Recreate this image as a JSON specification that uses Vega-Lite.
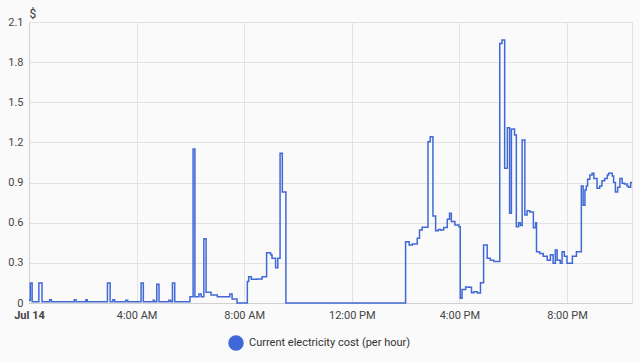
{
  "$schema": "https://vega.github.io/schema/vega-lite/v6.json",
  "width": 603,
  "height": 281,
  "autosize": {"type": "none"},
  "padding": {"left": 29, "top": 22, "right": 8, "bottom": 59},
  "background": "#fafafa",
  "config": {
    "font": "Roboto",
    "view": {"stroke": "#e2e2e2", "strokeWidth": 1},
    "axis": {"gridColor": "#e2e2e2", "domainColor": "#d0d0d0", "ticks": false, "labelFont": "Roboto", "labelFontSize": 11, "labelColor": "#444"}
  },
  "data": {
    "values": [
      {"t": "2023-07-14T00:00", "v": 0.02},
      {"t": "2023-07-14T00:03", "v": 0.15},
      {"t": "2023-07-14T00:07", "v": 0.01},
      {"t": "2023-07-14T00:22", "v": 0.15},
      {"t": "2023-07-14T00:29", "v": 0.01},
      {"t": "2023-07-14T00:46", "v": 0.025},
      {"t": "2023-07-14T00:50", "v": 0.01},
      {"t": "2023-07-14T01:41", "v": 0.025},
      {"t": "2023-07-14T01:45", "v": 0.01},
      {"t": "2023-07-14T02:07", "v": 0.025},
      {"t": "2023-07-14T02:10", "v": 0.01},
      {"t": "2023-07-14T02:55", "v": 0.15},
      {"t": "2023-07-14T03:01", "v": 0.01},
      {"t": "2023-07-14T03:07", "v": 0.025},
      {"t": "2023-07-14T03:11", "v": 0.01},
      {"t": "2023-07-14T03:36", "v": 0.02},
      {"t": "2023-07-14T03:40", "v": 0.01},
      {"t": "2023-07-14T04:10", "v": 0.15},
      {"t": "2023-07-14T04:15", "v": 0.01},
      {"t": "2023-07-14T04:37", "v": 0.02},
      {"t": "2023-07-14T04:40", "v": 0.01},
      {"t": "2023-07-14T04:45", "v": 0.14},
      {"t": "2023-07-14T04:50", "v": 0.01},
      {"t": "2023-07-14T05:12", "v": 0.02},
      {"t": "2023-07-14T05:16", "v": 0.01},
      {"t": "2023-07-14T05:20", "v": 0.15},
      {"t": "2023-07-14T05:25", "v": 0.01},
      {"t": "2023-07-14T05:59", "v": 0.047},
      {"t": "2023-07-14T06:06", "v": 1.15},
      {"t": "2023-07-14T06:10", "v": 0.047},
      {"t": "2023-07-14T06:19", "v": 0.067},
      {"t": "2023-07-14T06:24", "v": 0.047},
      {"t": "2023-07-14T06:30", "v": 0.48},
      {"t": "2023-07-14T06:35", "v": 0.08},
      {"t": "2023-07-14T06:46", "v": 0.06},
      {"t": "2023-07-14T07:00", "v": 0.047},
      {"t": "2023-07-14T07:28", "v": 0.067},
      {"t": "2023-07-14T07:33", "v": 0.03},
      {"t": "2023-07-14T07:44", "v": 0},
      {"t": "2023-07-14T08:07", "v": 0.16},
      {"t": "2023-07-14T08:10", "v": 0.197},
      {"t": "2023-07-14T08:16", "v": 0.177},
      {"t": "2023-07-14T08:29", "v": 0.18},
      {"t": "2023-07-14T08:40", "v": 0.197},
      {"t": "2023-07-14T08:50", "v": 0.376},
      {"t": "2023-07-14T08:59", "v": 0.36},
      {"t": "2023-07-14T09:02", "v": 0.334},
      {"t": "2023-07-14T09:10", "v": 0.264},
      {"t": "2023-07-14T09:15", "v": 0.334},
      {"t": "2023-07-14T09:20", "v": 1.12},
      {"t": "2023-07-14T09:25", "v": 0.83},
      {"t": "2023-07-14T09:33", "v": 0},
      {"t": "2023-07-14T14:00", "v": 0.458},
      {"t": "2023-07-14T14:08", "v": 0.433},
      {"t": "2023-07-14T14:15", "v": 0.44},
      {"t": "2023-07-14T14:26", "v": 0.483},
      {"t": "2023-07-14T14:31", "v": 0.545},
      {"t": "2023-07-14T14:37", "v": 0.566},
      {"t": "2023-07-14T14:50", "v": 1.205},
      {"t": "2023-07-14T14:55", "v": 1.243},
      {"t": "2023-07-14T15:01", "v": 0.65},
      {"t": "2023-07-14T15:07", "v": 0.54},
      {"t": "2023-07-14T15:13", "v": 0.55},
      {"t": "2023-07-14T15:18", "v": 0.545},
      {"t": "2023-07-14T15:25", "v": 0.565},
      {"t": "2023-07-14T15:33", "v": 0.625},
      {"t": "2023-07-14T15:38", "v": 0.67},
      {"t": "2023-07-14T15:42", "v": 0.61},
      {"t": "2023-07-14T15:50", "v": 0.583},
      {"t": "2023-07-14T15:59", "v": 0.57},
      {"t": "2023-07-14T16:02", "v": 0.035},
      {"t": "2023-07-14T16:06", "v": 0.1},
      {"t": "2023-07-14T16:14", "v": 0.12},
      {"t": "2023-07-14T16:21", "v": 0.118},
      {"t": "2023-07-14T16:27", "v": 0.077},
      {"t": "2023-07-14T16:32", "v": 0.085},
      {"t": "2023-07-14T16:40", "v": 0.075},
      {"t": "2023-07-14T16:47", "v": 0.152},
      {"t": "2023-07-14T16:54", "v": 0.433},
      {"t": "2023-07-14T17:02", "v": 0.334},
      {"t": "2023-07-14T17:09", "v": 0.32},
      {"t": "2023-07-14T17:17", "v": 0.31},
      {"t": "2023-07-14T17:30", "v": 1.94},
      {"t": "2023-07-14T17:35", "v": 1.965},
      {"t": "2023-07-14T17:41", "v": 1.007},
      {"t": "2023-07-14T17:47", "v": 1.31},
      {"t": "2023-07-14T17:52", "v": 0.67},
      {"t": "2023-07-14T17:56", "v": 1.3},
      {"t": "2023-07-14T18:03", "v": 1.255},
      {"t": "2023-07-14T18:07", "v": 0.57},
      {"t": "2023-07-14T18:12", "v": 0.6},
      {"t": "2023-07-14T18:16", "v": 0.58},
      {"t": "2023-07-14T18:20", "v": 1.218},
      {"t": "2023-07-14T18:26", "v": 0.658},
      {"t": "2023-07-14T18:31", "v": 0.69},
      {"t": "2023-07-14T18:37", "v": 0.68},
      {"t": "2023-07-14T18:45", "v": 0.563},
      {"t": "2023-07-14T18:50", "v": 0.6},
      {"t": "2023-07-14T18:52", "v": 0.383},
      {"t": "2023-07-14T18:59", "v": 0.37},
      {"t": "2023-07-14T19:07", "v": 0.35},
      {"t": "2023-07-14T19:16", "v": 0.32},
      {"t": "2023-07-14T19:23", "v": 0.36},
      {"t": "2023-07-14T19:29", "v": 0.297},
      {"t": "2023-07-14T19:34", "v": 0.396},
      {"t": "2023-07-14T19:38", "v": 0.32},
      {"t": "2023-07-14T19:45", "v": 0.297},
      {"t": "2023-07-14T19:49", "v": 0.383},
      {"t": "2023-07-14T19:54", "v": 0.35},
      {"t": "2023-07-14T20:00", "v": 0.297},
      {"t": "2023-07-14T20:12", "v": 0.35},
      {"t": "2023-07-14T20:21", "v": 0.383},
      {"t": "2023-07-14T20:32", "v": 0.874},
      {"t": "2023-07-14T20:36", "v": 0.73},
      {"t": "2023-07-14T20:40", "v": 0.845},
      {"t": "2023-07-14T20:43", "v": 0.874},
      {"t": "2023-07-14T20:46", "v": 0.924},
      {"t": "2023-07-14T20:51", "v": 0.957},
      {"t": "2023-07-14T20:56", "v": 0.969},
      {"t": "2023-07-14T21:00", "v": 0.93},
      {"t": "2023-07-14T21:07", "v": 0.857},
      {"t": "2023-07-14T21:13", "v": 0.874},
      {"t": "2023-07-14T21:18", "v": 0.914},
      {"t": "2023-07-14T21:24", "v": 0.93},
      {"t": "2023-07-14T21:30", "v": 0.957},
      {"t": "2023-07-14T21:33", "v": 0.97},
      {"t": "2023-07-14T21:41", "v": 0.95},
      {"t": "2023-07-14T21:44", "v": 0.9},
      {"t": "2023-07-14T21:48", "v": 0.83},
      {"t": "2023-07-14T21:53", "v": 0.865},
      {"t": "2023-07-14T21:58", "v": 0.93},
      {"t": "2023-07-14T22:03", "v": 0.895},
      {"t": "2023-07-14T22:08", "v": 0.89},
      {"t": "2023-07-14T22:14", "v": 0.874},
      {"t": "2023-07-14T22:17", "v": 0.865},
      {"t": "2023-07-14T22:22", "v": 0.9},
      {"t": "2023-07-14T22:25", "v": 0.9}
    ]
  },
  "mark": {"type": "line", "interpolate": "step-after", "strokeWidth": 1.5},
  "encoding": {
    "x": {
      "field": "t",
      "type": "temporal",
      "scale": {"nice": false},
      "axis": {
        "title": null,
        "grid": true,
        "values": [
          {"year": 2023, "month": 7, "date": 14, "hours": 0},
          {"year": 2023, "month": 7, "date": 14, "hours": 4},
          {"year": 2023, "month": 7, "date": 14, "hours": 8},
          {"year": 2023, "month": 7, "date": 14, "hours": 12},
          {"year": 2023, "month": 7, "date": 14, "hours": 16},
          {"year": 2023, "month": 7, "date": 14, "hours": 20}
        ],
        "labelPadding": 6,
        "labelExpr": "hours(datum.value) == 0 ? 'Jul 14' : timeFormat(datum.value, '%-I:%M %p')",
        "labelFontWeight": {"condition": {"test": "hours(datum.value) == 0", "value": "bold"}, "value": "normal"},
        "labelFlush": false,
        "labelOverlap": false
      }
    },
    "y": {
      "field": "v",
      "type": "quantitative",
      "scale": {"domain": [0, 2.1], "nice": false},
      "axis": {
        "title": "$",
        "titleAngle": 0,
        "titleAlign": "left",
        "titleBaseline": "alphabetic",
        "titleX": 0,
        "titleY": -5,
        "titleFontSize": 12,
        "titleFontWeight": "normal",
        "titleColor": "#333",
        "values": [0, 0.3, 0.6, 0.9, 1.2, 1.5, 1.8, 2.1],
        "labelExpr": "datum.value == 0 ? '0' : format(datum.value, '.1f')",
        "labelPadding": 6
      }
    },
    "color": {
      "datum": "Current electricity cost (per hour)",
      "type": "nominal",
      "scale": {"range": ["#4169d6"]},
      "legend": {
        "title": null,
        "orient": "none",
        "legendX": 199,
        "legendY": 313,
        "direction": "horizontal",
        "symbolType": "circle",
        "symbolSize": 196,
        "symbolFillColor": "#3f68d8",
        "symbolStrokeColor": "#3f68d8",
        "labelFontSize": 11,
        "labelLimit": 400,
        "labelColor": "#333",
        "labelFont": "Roboto",
        "labelOffset": 5
      }
    }
  }
}
